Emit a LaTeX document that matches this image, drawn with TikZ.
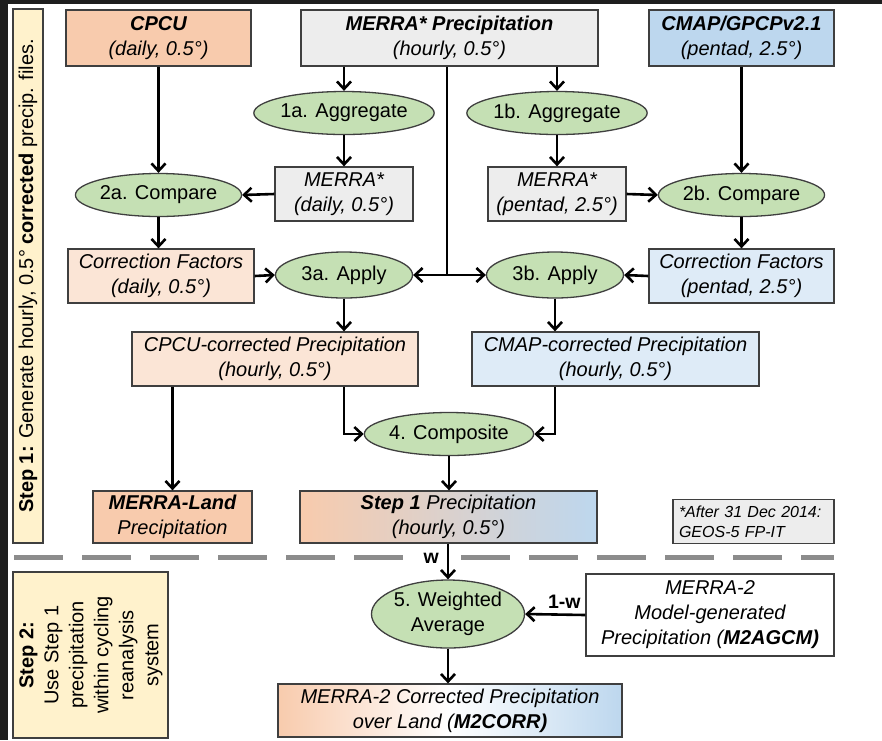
\documentclass[tikz,border=0pt]{standalone}
\usepackage{fontspec}
\setmainfont{Liberation Sans}
\usetikzlibrary{shapes.geometric,arrows.meta}
\definecolor{srcorange}{HTML}{F8CBAD}
\definecolor{lightorange}{HTML}{FBE5D6}
\definecolor{srcblue}{HTML}{BDD7EE}
\definecolor{lightblue}{HTML}{DEEBF7}
\definecolor{merragray}{HTML}{EDEDED}
\definecolor{procgreen}{HTML}{C5E0B4}
\definecolor{stepyellow}{HTML}{FFF2CC}
\definecolor{boxline}{HTML}{3F3F3F}
\definecolor{sepgray}{HTML}{8C8C8C}
\definecolor{frame}{HTML}{1E1E1E}
\tikzset{
	box/.style={rectangle, draw=boxline, line width=1.3pt, align=center, inner sep=0pt, font=\itshape},
	proc/.style={ellipse, draw=boxline, line width=1.3pt, fill=procgreen, minimum width=139pt, minimum height=43pt, inner sep=0pt, align=center},
	arr/.style={-{Straight Barb[length=7.5pt,width=14pt]}, line width=2.6pt},
	sep/.style={sepgray, line width=5pt, dash pattern=on 49pt off 19pt},
	wlabel/.style={font=\bfseries\fontsize{19.5}{22}\selectfont, inner sep=1pt},
}
\begin{document}
\fontsize{20}{25}\selectfont
\begin{tikzpicture}[x=1pt,y=-1pt]
	\useasboundingbox (0,0) rectangle (882,740);
	\fill[white] (0,0) rectangle (882,740);
	\fill[frame] (0,0) rectangle (882,4);
	\fill[frame] (0,0) rectangle (8,740);
	% step panels
	\draw[boxline, line width=1.3pt, fill=stepyellow] (13,9) rectangle (43,543);
	\node (stepone) at (28,276) [rotate=90] {\textbf{Step 1:} Generate hourly, 0.5° \textbf{corrected} precip. files.};
	\draw[boxline, line width=1.3pt, fill=stepyellow] (13,572) rectangle (168,738);
	\node (steptwo) at (91,655) [rotate=90, align=center] {\textbf{Step 2:}\\Use Step 1\\precipitation\\within cycling\\reanalysis\\system};
	\draw[sep] (14,557) -- (403,557);
	\draw[sep] (461,557) -- (834,557);
	% sources
	\node (cpcu) at (158.5, 38)	[box, fill=srcorange, minimum width=185pt, minimum height=56pt]	{\textbf{CPCU}\\(daily, 0.5°)};
	\node (merra) at (449.5, 38)	[box, fill=merragray, minimum width=297pt, minimum height=56pt]	{\textbf{MERRA* Precipitation}\\(hourly, 0.5°)};
	\node (cmap) at (741.5, 38)	[box, fill=srcblue, minimum width=185pt, minimum height=56pt]	{\textbf{CMAP/GPCPv2.1}\\(pentad, 2.5°)};
	\node (agga) at (344, 113)	[proc]	{1a. Aggregate};
	\node (aggb) at (557, 113)	[proc]	{1b. Aggregate};
	\node (merrad) at (344, 194)	[box, fill=merragray, minimum width=138pt, minimum height=54pt]	{MERRA*\\(daily, 0.5°)};
	\node (merrap) at (557, 194)	[box, fill=merragray, minimum width=138pt, minimum height=54pt]	{MERRA*\\(pentad, 2.5°)};
	\node (compa) at (158.5, 195)	[proc]	{2a. Compare};
	\node (compb) at (741.5, 195)	[proc]	{2b. Compare};
	\node (cfd) at (161, 276)	[box, fill=lightorange, minimum width=186pt, minimum height=54pt]	{Correction Factors\\(daily, 0.5°)};
	\node (cfp) at (741.5, 276)	[box, fill=lightblue, minimum width=185pt, minimum height=54pt]	{Correction Factors\\(pentad, 2.5°)};
	\node (applya) at (344, 275)	[proc, minimum width=137pt, minimum height=46pt]	{3a. Apply};
	\node (applyb) at (555, 275)	[proc, minimum width=137pt, minimum height=46pt]	{3b. Apply};
	\node (cpcucorr) at (275, 359)	[box, fill=lightorange, minimum width=286pt, minimum height=54pt]	{CPCU-corrected Precipitation\\(hourly, 0.5°)};
	\node (cmapcorr) at (615.5, 359)	[box, fill=lightblue, minimum width=287pt, minimum height=54pt]	{CMAP-corrected Precipitation\\(hourly, 0.5°)};
	\node (comp) at (449, 434)	[proc]	{4. Composite};
	\node (land) at (172.5, 517)	[box, fill=srcorange, minimum width=159pt, minimum height=52pt]	{\textbf{MERRA-Land}\\Precipitation};
	\node (stepprec) at (448.5, 517)	[box, left color=srcorange, right color=srcblue, minimum width=297pt, minimum height=52pt]	{\textbf{Step 1} Precipitation\\(hourly, 0.5°)};
	\node (note) at (753.5, 521.5)	[box, fill=merragray, text width=149pt, inner sep=6pt, align=left, minimum height=43pt, font=\itshape\fontsize{16}{20}\selectfont]	{*After 31 Dec 2014:\\GEOS-5 FP-IT};
	\node (wavg) at (448, 614)	[proc, minimum height=68pt]	{5. Weighted\\Average};
	\node (model) at (710, 615)	[box, fill=white, minimum width=248pt, minimum height=82pt]	{MERRA-2\\Model-generated\\Precipitation (\textbf{M2AGCM)}};
	\node (m2corr) at (450, 710.5)	[box, left color=srcorange, right color=srcblue, middle color=white, minimum width=344pt, minimum height=53pt]	{MERRA-2 Corrected Precipitation\\over Land (\textbf{M2CORR)}};
	% step 1 flow
	\coordinate (trunk) at (447, 275);
	\draw[arr] (agga |- merra.south) -- (agga.north);
	\draw[arr] (aggb |- merra.south) -- (aggb.north);
	\draw[line width=2.6pt] (trunk |- merra.south) -- (trunk);
	\draw[arr] (trunk) -- (applya.east);
	\draw[arr] (trunk) -- (applyb.west);
	\draw[arr] (cpcu.south) -- (compa.north);
	\draw[arr] (compb |- cmap.south) -- (compb.north);
	\draw[arr] (agga.south) -- (merrad.north);
	\draw[arr] (aggb.south) -- (merrap.north);
	\draw[arr] (merrad.west) -- (compa.east);
	\draw[arr] (merrap.east) -- (compb.west);
	\draw[arr] (compa.south) -- (compa.south |- cfd.north);
	\draw[arr] (compb.south) -- (compb.south |- cfp.north);
	\draw[arr] (cfd.east) -- (applya.west);
	\draw[arr] (cfp.west) -- (applyb.east);
	\draw[arr] (applya.south) -- (applya.south |- cpcucorr.north);
	\draw[arr] (applyb.south) -- (applyb.south |- cmapcorr.north);
	\draw[arr] (land.north |- cpcucorr.south) -- (land.north);
	\draw[arr] (cpcucorr.south -| applya) |- (comp.west);
	\draw[arr] (cmapcorr.south -| applyb) |- (comp.east);
	\draw[arr] (comp.south) -- (comp.south |- stepprec.north);
	% step 2 flow
	\draw[arr] (wavg |- stepprec.south) -- (wavg.north) node[pos=0.4, left=7pt, wlabel] {w};
	\draw[arr] (model.west) -- (wavg.east) node[pos=0.35, above=4pt, wlabel] {1-w};
	\draw[arr] (wavg.south) -- (wavg.south |- m2corr.north);
\end{tikzpicture}
\end{document}
